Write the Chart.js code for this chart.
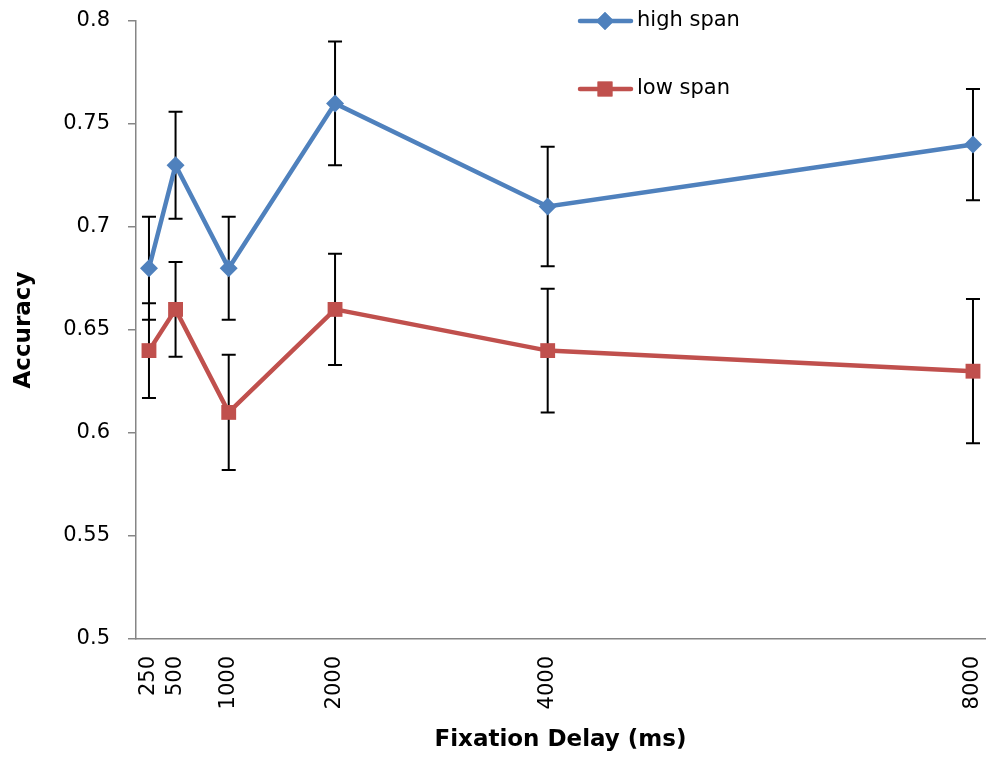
<!DOCTYPE html>
<html>
<head>
<meta charset="utf-8">
<script src="https://cdn.jsdelivr.net/npm/chart.js@4"></script>
<style>
  html, body { margin: 0; padding: 0; background: #fff; }
  canvas { display: block; }
</style>
</head>
<body>
<canvas id="Chart" width="986" height="764"></canvas>
<script>
// data
const delays = [250, 500, 1000, 2000, 4000, 8000];
const highSpan = [0.68, 0.73, 0.68, 0.76, 0.71, 0.74];
const highErr = [0.025, 0.026, 0.025, 0.03, 0.029, 0.027];
const lowSpan = [0.64, 0.66, 0.61, 0.66, 0.64, 0.63];
const lowErr = [0.023, 0.023, 0.028, 0.027, 0.03, 0.035];
const seriesNames = ['high span', 'low span'];

const FONT = "'DejaVu Sans', sans-serif";
const BLUE = '#4F81BD';
const RED = '#C0504D';
const AXIS = '#868686';

const ctx = document.getElementById('Chart').getContext('2d');

const toPoints = (ys) => delays.map((d, i) => ({ x: d, y: ys[i] }));
const errors = [highErr, lowErr];

// vertical error bars with caps, drawn under the lines
const errorBars = {
  id: 'errorBars',
  beforeDatasetsDraw(chart) {
    const c = chart.ctx;
    const yScale = chart.scales.y;
    c.save();
    c.strokeStyle = '#000';
    c.lineWidth = 2;
    chart.data.datasets.forEach((ds, di) => {
      const meta = chart.getDatasetMeta(di);
      meta.data.forEach((pt, i) => {
        const v = ds.data[i].y;
        const e = errors[di][i];
        const top = yScale.getPixelForValue(v + e);
        const bot = yScale.getPixelForValue(v - e);
        c.beginPath();
        c.moveTo(pt.x, top); c.lineTo(pt.x, bot);
        c.moveTo(pt.x - 7, top); c.lineTo(pt.x + 7, top);
        c.moveTo(pt.x - 7, bot); c.lineTo(pt.x + 7, bot);
        c.stroke();
      });
    });
    c.restore();
  }
};

// legend inside the plot, top right like the original
const insideLegend = {
  id: 'insideLegend',
  afterDraw(chart) {
    const c = chart.ctx;
    const rows = [21, 89];
    c.save();
    chart.data.datasets.forEach((ds, i) => {
      const y = rows[i];
      c.strokeStyle = ds.borderColor;
      c.lineWidth = ds.borderWidth;
      c.lineCap = 'round';
      c.beginPath();
      c.moveTo(580, y); c.lineTo(631, y);
      c.stroke();
      c.fillStyle = ds.pointBackgroundColor;
      Chart.helpers.drawPoint(c, {
        pointStyle: ds.pointStyle,
        radius: ds.pointRadius,
        borderWidth: 0,
        rotation: 0
      }, 605, y);
      c.fill();
      c.fillStyle = '#000';
      c.font = '21px ' + FONT;
      c.textAlign = 'left';
      c.textBaseline = 'middle';
      c.fillText(ds.label, 637, y);
    });
    c.restore();
  }
};

const chart = new Chart(ctx, {
  type: 'line',
  data: {
    datasets: [
      {
        label: seriesNames[0],
        data: toPoints(highSpan),
        borderColor: BLUE,
        backgroundColor: BLUE,
        pointBackgroundColor: BLUE,
        pointBorderColor: BLUE,
        borderWidth: 4.5,
        pointStyle: 'rectRot',
        pointRadius: 9,
        pointBorderWidth: 0,
        tension: 0
      },
      {
        label: seriesNames[1],
        data: toPoints(lowSpan),
        borderColor: RED,
        backgroundColor: RED,
        pointBackgroundColor: RED,
        pointBorderColor: RED,
        borderWidth: 4.5,
        pointStyle: 'rect',
        pointRadius: 10.5,
        pointBorderWidth: 0,
        tension: 0
      }
    ]
  },
  options: {
    responsive: false,
    animation: false,
    layout: { autoPadding: false, padding: { top: 21, right: 1, left: 0, bottom: 0 } },
    plugins: {
      legend: { display: false },
      tooltip: { enabled: false }
    },
    scales: {
      x: {
        type: 'linear',
        min: 128,
        max: 8113,
        afterBuildTicks(scale) {
          scale.ticks = delays.map(v => ({ value: v }));
        },
        afterFit(scale) {
          scale.height = 125;
          scale.paddingLeft = 0;
          scale.paddingRight = 0;
        },
        grid: { display: true, drawOnChartArea: false, drawTicks: false },
        border: { color: AXIS, width: 1.5 },
        ticks: {
          autoSkip: false,
          minRotation: 90,
          maxRotation: 90,
          padding: 17,
          color: '#000',
          font: { family: FONT, size: 21 },
          callback: (v) => String(v)
        },
        title: {
          display: true,
          text: 'Fixation Delay (ms)',
          color: '#000',
          font: { family: FONT, size: 23, weight: 'bold' },
          padding: { top: 0, bottom: 10 }
        }
      },
      y: {
        min: 0.5,
        max: 0.8,
        afterFit(scale) {
          scale.width = 136;
          scale.paddingTop = 0;
          scale.paddingBottom = 0;
        },
        grid: {
          drawOnChartArea: false,
          drawTicks: true,
          tickLength: 8,
          color: AXIS,
          lineWidth: 1.5
        },
        border: { color: AXIS, width: 1.5 },
        ticks: {
          stepSize: 0.05,
          padding: 18,
          color: '#000',
          font: { family: FONT, size: 21 },
          callback: (v) => String(Number(v.toFixed(2)))
        },
        title: {
          display: true,
          text: 'Accuracy',
          color: '#000',
          font: { family: FONT, size: 23, weight: 'bold' },
          padding: { top: 10, bottom: 0 }
        }
      }
    }
  },
  plugins: [errorBars, insideLegend]
});
</script>
</body>
</html>
